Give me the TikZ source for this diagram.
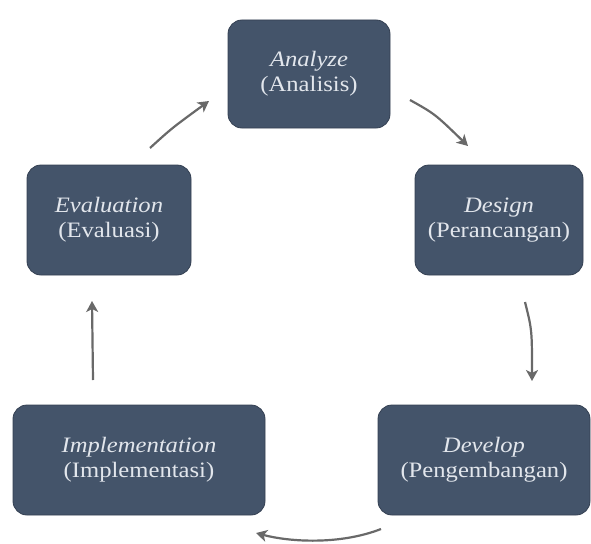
\documentclass[tikz,border=0pt]{standalone}
\usepackage{fontspec}
\setmainfont[FakeStretch=1.12]{Liberation Serif}
\usetikzlibrary{arrows.meta}
\definecolor{boxfill}{RGB}{68,84,106}
\definecolor{boxline}{RGB}{52,64,82}
\definecolor{boxtext}{RGB}{226,230,236}
\definecolor{arrowc}{RGB}{105,105,105}
\begin{document}
\begin{tikzpicture}[x=1pt,y=-1pt,
  stagebox/.style={draw=boxline, line width=0.8pt, fill=boxfill, rounded corners=14pt,
    text=boxtext, align=center, inner sep=0pt,
    font=\fontsize{22}{25}\selectfont},
  flowarrow/.style={draw=arrowc, line width=2.2pt, -{Stealth[length=11pt,width=12pt,inset=3pt]}}]
\useasboundingbox (0,0) rectangle (591,543);
\node[stagebox, minimum width=162pt, minimum height=108pt] (an) at (309,74) {\textit{Analyze}\\(Analisis)};
\node[stagebox, minimum width=164pt, minimum height=110pt] (ev) at (109,220) {\textit{Evaluation}\\(Evaluasi)};
\node[stagebox, minimum width=168pt, minimum height=110pt] (de) at (499,220) {\textit{Design}\\(Perancangan)};
\node[stagebox, minimum width=212pt, minimum height=110pt] (dv) at (484,460) {\textit{Develop}\\(Pengembangan)};
\node[stagebox, minimum width=252pt, minimum height=110pt] (im) at (139,460) {\textit{Implementation}\\(Implementasi)};
\coordinate (evout) at (150,148);
\coordinate (anin) at (209,101);
\coordinate (anout) at (410,100);
\coordinate (dein) at (468,146);
\coordinate (deout) at (525,302);
\coordinate (dvin) at (532,381);
\coordinate (dvout) at (381,529);
\coordinate (imin) at (256,533);
\coordinate (imout) at (93,380);
\coordinate (evin) at (92,301);
\draw[flowarrow] (evout) .. controls (172,128) .. (anin);
\draw[flowarrow] (anout) .. controls (435,114) .. (dein);
\draw[flowarrow] (deout) .. controls (532,330) .. (dvin);
\draw[flowarrow] (dvout) .. controls (340,545) and (290,542) .. (imin);
\draw[flowarrow] (imout) -- (evin);
\end{tikzpicture}
\end{document}
